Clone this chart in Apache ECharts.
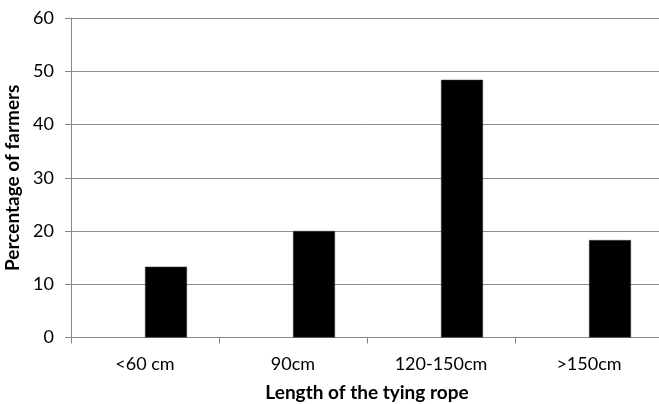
<!DOCTYPE html>
<html>
<head>
<meta charset="utf-8">
<script src="https://cdn.jsdelivr.net/npm/echarts@6/dist/echarts.min.js"></script>
<style>
  html, body { margin: 0; padding: 0; background: #fff; }
  #chart { width: 659px; height: 404px; }
</style>
</head>
<body>
<div id="chart"></div>
<script>
// Rope length categories and share of farmers (%)
const categories = ['<60 cm', '90cm', '120-150cm', '>150cm'];
const farmerShare = [13.3, 20.0, 48.4, 18.3];
// Empty companion series keeps the clustered-bar spacing
const emptySeries = [null, null, null, null];
const yTicks = { min: 0, max: 60, interval: 10 };

const FONT = 'Lato';
const chart = echarts.init(document.getElementById('chart'), null, { renderer: 'canvas' });

chart.setOption({
  animation: false,
  backgroundColor: '#ffffff',
  grid: { left: 71, right: -4, top: 18, bottom: 66.5, containLabel: false, outerBoundsMode: 'none' },
  xAxis: {
    type: 'category',
    data: categories,
    name: 'Length of the tying rope',
    nameLocation: 'middle',
    nameGap: 46,
    nameTextStyle: { fontFamily: FONT, fontSize: 19, fontWeight: 'bold', color: '#000' },
    axisLine: { lineStyle: { color: '#868686', width: 1 } },
    axisTick: { show: true, length: 6, lineStyle: { color: '#868686' } },
    axisLabel: { fontFamily: FONT, fontSize: 18, color: '#000', margin: 18 },
    splitLine: { show: false }
  },
  yAxis: {
    type: 'value',
    min: yTicks.min,
    max: yTicks.max,
    interval: yTicks.interval,
    name: 'Percentage of farmers',
    nameLocation: 'middle',
    nameGap: 46,
    nameTextStyle: { fontFamily: FONT, fontSize: 19, fontWeight: 'bold', color: '#000' },
    axisLine: { show: true, lineStyle: { color: '#868686', width: 1 } },
    axisTick: { show: true, inside: false, length: 6, lineStyle: { color: '#868686' } },
    axisLabel: { fontFamily: FONT, fontSize: 18, color: '#000', margin: 17 },
    splitLine: { show: true, lineStyle: { color: '#8c8c8c', width: 1 } }
  },
  series: [
    {
      type: 'bar',
      data: emptySeries,
      barWidth: 42,
      barGap: '0%',
      itemStyle: { color: 'transparent' }
    },
    {
      type: 'bar',
      data: farmerShare,
      barWidth: 42,
      barGap: '0%',
      itemStyle: { color: '#000000', borderColor: '#404040', borderWidth: 0.5 }
    }
  ]
});
</script>
</body>
</html>
